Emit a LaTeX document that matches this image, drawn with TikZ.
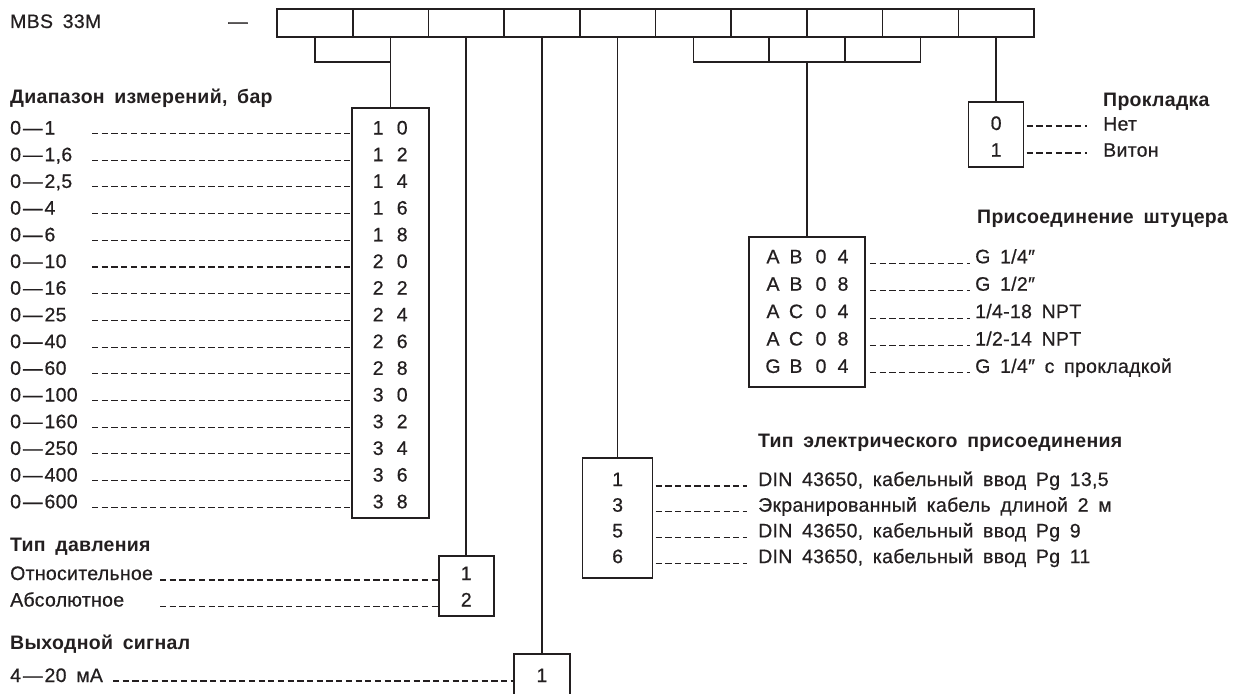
\documentclass[tikz,border=0pt]{standalone}
\usepackage{fontspec}
\setmainfont{Liberation Sans}[LetterSpace=1.5,WordSpace=1.7,UprightFeatures={FakeBold=0.6}]
\usetikzlibrary{calc}
\definecolor{ink}{HTML}{231F20}
\newcommand\fsz{\fontsize{19.5}{22}\selectfont}
\newcommand\md{\kern2pt—\kern2pt}
\begin{document}
\begin{tikzpicture}[x=1pt,y=-1pt,
 cell/.style={draw=ink,line width=1.6pt,minimum width=75.7pt,minimum height=28pt,inner sep=0pt,outer sep=0pt},
 obox/.style={draw=ink,line width=1.6pt,inner sep=0pt,outer sep=0pt},
 conn/.style={draw=ink,line width=1.6pt,line join=miter},
 lead/.style={draw=ink,line width=1.1pt,dash pattern=on 6.2pt off 3.5pt},
 txt/.style={anchor=base west,inner sep=0pt,text=ink,font=\fsz},
 ttl/.style={anchor=base west,inner sep=0pt,text=ink,font=\fsz\bfseries},
 dig/.style={anchor=base,inner sep=0pt,text=ink,font=\fsz}]
\useasboundingbox (0,0) rectangle (1246,693);
\clip (0,0) rectangle (1246,693);
% header
\node[txt] (mbs) at (10,28) {MBS 33M};
\node[txt] (hd) at (228,28) {—};
\foreach \i in {1,...,10} {\node[cell] (c\i) at ({277+75.7*(\i-0.5)},23) {};}
% bracket coordinates
\foreach \i in {1,2,6,7,8,9} {\coordinate (k\i) at (c\i.south |- 0,62);}
\coordinate (m2) at ($(k7)!0.5!(k8)$);
% boxes
\node[obox,minimum width=77pt,minimum height=410pt] (rng) at (c2.center |- 0,313) {};
\node[obox,minimum width=55pt,minimum height=60pt] (prs) at (c3.center |- 0,586) {};
\node[obox,minimum width=56pt,minimum height=80pt] (out) at (c4.center |- 0,694) {};
\node[obox,minimum width=70pt,minimum height=120pt] (ele) at (c5.center |- 0,518) {};
\node[obox,minimum width=116pt,minimum height=150pt] (fitb) at (m2 |- 0,312) {};
\node[obox,minimum width=55pt,minimum height=65pt] (gsk) at (c10.center |- 0,134.5) {};
% connectors
\draw[conn] (c1.south) -- (k1) -- (k2);
\draw[conn] (c2.south) -- (rng.north);
\draw[conn] (c3.south) -- (prs.north);
\draw[conn] (c4.south) -- (out.north);
\draw[conn] (c5.south) -- (ele.north);
\draw[conn] (c6.south) -- (k6) -- (k9) -- (c9.south);
\draw[conn] (c7.south) -- (k7);
\draw[conn] (c8.south) -- (k8);
\draw[conn] (m2) -- (fitb.north);
\draw[conn] (c10.south) -- (gsk.north);
% range
\node[ttl] (tr) at (10,103) {Диапазон измерений, бар};
\foreach \lab/\a/\b [count=\i from 0] in {0\md 1/1/0,{0\md 1,6}/1/2,{0\md 2,5}/1/4,0\md 4/1/6,0\md 6/1/8,0\md 10/2/0,0\md 16/2/2,0\md 25/2/4,0\md 40/2/6,0\md 60/2/8,0\md 100/3/0,0\md 160/3/2,0\md 250/3/4,0\md 400/3/6,0\md 600/3/8}{
 \pgfmathsetmacro\yy{134.5+26.7*\i}
 \node[txt] (rl\i) at (10,\yy) {\lab};
 \node[dig] (ra\i) at (378.2,\yy) {\a};
 \node[dig] (rb\i) at (402.2,\yy) {\b};
 \coordinate (rd\i) at (92,\yy-1);
 \draw[lead] (rd\i) -- (rd\i -| rng.west);
}
% pressure type
\node[ttl] (tp) at (10,551) {Тип давления};
\node[txt] (pl1) at (10,580) {Относительное};
\node[txt] (pl2) at (10,606.5) {Абсолютное};
\node[dig] (p1) at (c3.center |- 0,580) {1};
\node[dig] (p2) at (c3.center |- 0,606.5) {2};
\coordinate (pd1) at (160,580);
\coordinate (pd2) at (160,606.5);
\draw[lead] (pd1) -- (pd1 -| prs.west);
\draw[lead] (pd2) -- (pd2 -| prs.west);
% output
\node[ttl] (to) at (10,649) {Выходной сигнал};
\node[txt] (ol1) at (10,682) {4\md 20 мА};
\node[dig] (o1) at (c4.center |- 0,682) {1};
\coordinate (od1) at (113,681);
\draw[lead] (od1) -- (od1 -| out.west);
% electrical
\node[ttl] (te) at (758,447) {Тип электрического присоединения};
\foreach \d/\lab [count=\i from 0] in {1/{DIN 43650, кабельный ввод Pg 13,5},3/{Экранированный кабель длиной 2 м},5/{DIN 43650, кабельный ввод Pg 9},6/{DIN 43650, кабельный ввод Pg 11}}{
 \pgfmathsetmacro\yy{486+25.7*\i}
 \node[dig] (ed\i) at (c5.center |- 0,\yy) {\d};
 \node[txt] (el\i) at (758,\yy) {\lab};
 \coordinate (ee\i) at (ele.east |- 0,\yy);
 \draw[lead,shorten <=3pt] (ee\i) -- (ee\i -| 747,0);
}
% fitting
\node[ttl] (tf) at (977,223.3) {Присоединение штуцера};
\foreach \p/\q/\r/\s/\lab [count=\i from 0] in {A/B/0/4/{G 1/4″},A/B/0/8/{G 1/2″},A/C/0/4/{1/4-18 NPT},A/C/0/8/{1/2-14 NPT},G/B/0/4/{G 1/4″ с прокладкой}}{
 \pgfmathsetmacro\yy{263.3+27.4*\i}
 \node[dig] (fa\i) at (773,\yy) {\p};
 \node[dig] (fb\i) at (796,\yy) {\q};
 \node[dig] (fc\i) at (821,\yy) {\r};
 \node[dig] (fd\i) at (843,\yy) {\s};
 \node[txt] (fl\i) at (975,\yy) {\lab};
 \coordinate (fe\i) at (fitb.east |- 0,\yy);
 \draw[lead,shorten <=5pt] (fe\i) -- (fe\i -| 970,0);
}
% gasket
\node[ttl] (tg) at (1103,106.7) {Прокладка};
\node[dig] (g0) at (c10.center |- 0,130) {0};
\node[dig] (g1) at (c10.center |- 0,156.7) {1};
\node[txt] (gl0) at (1103,130.5) {Нет};
\node[txt] (gl1) at (1103,156.7) {Витон};
\coordinate (ge0) at (gsk.east |- 0,126);
\coordinate (ge1) at (gsk.east |- 0,153);
\draw[lead,shorten <=3pt] (ge0) -- (ge0 -| 1087,0);
\draw[lead,shorten <=3pt] (ge1) -- (ge1 -| 1087,0);
\end{tikzpicture}
\end{document}
